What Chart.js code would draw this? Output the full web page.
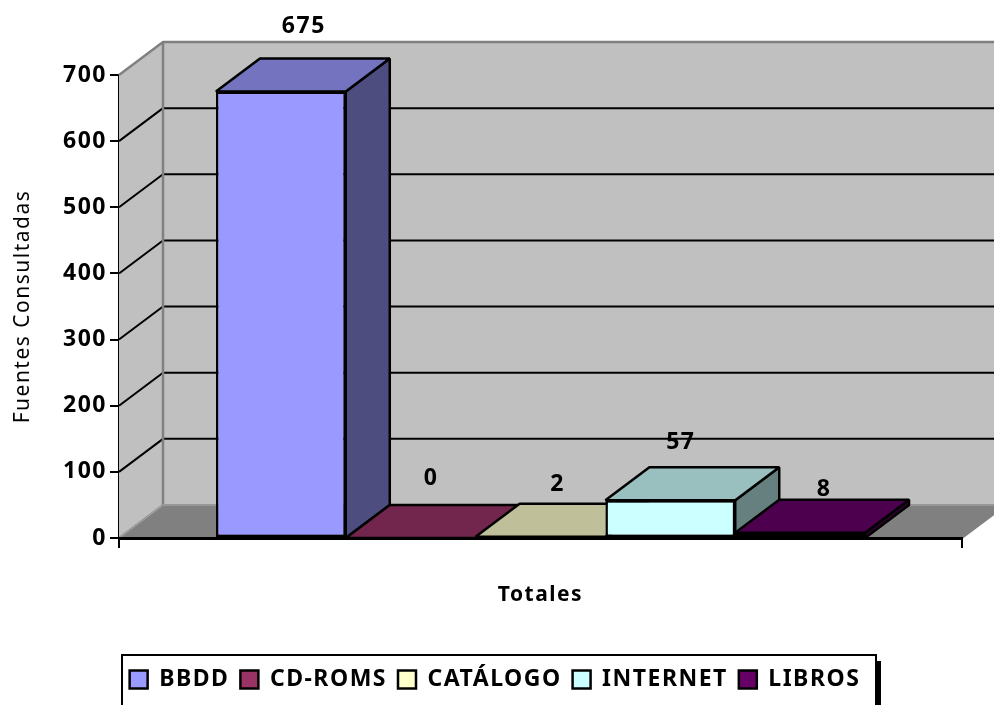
<!DOCTYPE html>
<html>
<head>
<meta charset="utf-8">
<title>Fuentes Consultadas</title>
<script src="https://cdn.jsdelivr.net/npm/chart.js@4"></script>
<style>
  html, body { margin: 0; padding: 0; background: #fff; overflow: hidden; }
  canvas { display: block; }
</style>
</head>
<body>
<canvas id="myChart" width="994" height="705"></canvas>
<script>
const categories = ["Totales"];
const seriesNames = ["BBDD", "CD-ROMS", "CATÁLOGO", "INTERNET", "LIBROS"];
const seriesValues = [675, 0, 2, 57, 8];
const seriesColors = ["#9999FF", "#993366", "#FFFFCC", "#CCFFFF", "#660066"];
const axisTitle = "Fuentes Consultadas";

const depthX = 44;
const depthY = -33;
const fontName = "'Noto Sans', sans-serif";
const labelNudge = [[23, -32], [20.5, -27], [17, -19], [10.5, -25], [24, -10]];

function shade(hex, k) {
    const n = parseInt(hex.slice(1), 16);
    return `rgb(${(n >> 16) * k}, ${((n >> 8) & 255) * k}, ${(n & 255) * k})`;
}

function poly(ctx, pts, fill, stroke, width) {
    ctx.beginPath();
    pts.forEach((p, i) => i ? ctx.lineTo(p[0], p[1]) : ctx.moveTo(p[0], p[1]));
    ctx.closePath();
    if (fill) { ctx.fillStyle = fill; ctx.fill(); }
    if (stroke) { ctx.strokeStyle = stroke; ctx.lineWidth = width; ctx.lineJoin = "bevel"; ctx.stroke(); }
}

// walls, floor and the gridlines that run round them
const walls = {
    id: "walls",
    // the canvas state is reset when Chart.js sizes it, so set this late
    beforeUpdate(chart) {
        chart.ctx.letterSpacing = "1.5px";
    },
    // the right padding pulls the legend off centre, push it back
    afterLayout(chart) {
        chart.legend.left += 14;
        chart.legend.right += 14;
    },
    beforeDatasetsDraw(chart) {
        const { ctx, chartArea: a, scales: { y } } = chart;
        const bx = a.left + depthX, by = a.top + depthY;
        const fy = a.bottom + depthY;
        ctx.save();
        poly(ctx, [[a.left, a.top], [bx, by], [bx, fy], [a.left, a.bottom]], "#C0C0C0");
        poly(ctx, [[bx, by], [a.right + depthX, by], [a.right + depthX, fy], [bx, fy]], "#C0C0C0");
        poly(ctx, [[a.left, a.bottom], [a.right, a.bottom], [a.right + depthX, fy], [bx, fy]], "#808080", "#808080", 2);

        ctx.strokeStyle = "#000";
        ctx.lineWidth = 2;
        y.ticks.forEach(t => {
            if (t.value === 0 || t.value === y.max) return;
            const py = y.getPixelForValue(t.value);
            ctx.beginPath();
            ctx.moveTo(a.left, py);
            ctx.lineTo(bx, py + depthY);
            ctx.lineTo(a.right + depthX, py + depthY);
            ctx.stroke();
        });

        ctx.strokeStyle = "#808080";
        ctx.lineWidth = 2.5;
        ctx.beginPath();
        ctx.moveTo(a.left, a.top);
        ctx.lineTo(bx, by);
        ctx.lineTo(a.right + depthX, by);
        ctx.moveTo(bx, by);
        ctx.lineTo(bx, fy);
        ctx.stroke();
        ctx.lineWidth = 1.5;
        ctx.strokeStyle = "#A0A0A0";
        ctx.beginPath();
        ctx.moveTo(a.left, a.bottom);
        ctx.lineTo(bx, fy);
        ctx.lineTo(a.right + depthX, fy);
        ctx.stroke();

        // top and side of every bar, left to right; the fronts come from Chart.js
        seriesValues.forEach((v, i) => {
            const bar = chart.getDatasetMeta(i).data[0];
            const l = bar.x - bar.width / 2, r = bar.x + bar.width / 2;
            const t = bar.y, b = a.bottom;
            poly(ctx, [[r, t], [r + depthX, t + depthY], [r + depthX, b + depthY], [r, b]], shade(seriesColors[i], 0.5), "#000", 2.5);
            poly(ctx, [[l, t], [r, t], [r + depthX, t + depthY], [l + depthX, t + depthY]], shade(seriesColors[i], 0.75), "#000", 2.5);
        });
        ctx.restore();
    }
};

const valueLabels = {
    id: "valueLabels",
    afterDatasetsDraw(chart) {
        const { ctx } = chart;
        ctx.save();
        ctx.font = `bold 23px ${fontName}`;
        ctx.fillStyle = "#000";
        ctx.textAlign = "center";
        ctx.textBaseline = "middle";
        seriesValues.forEach((v, i) => {
            const bar = chart.getDatasetMeta(i).data[0];
            ctx.fillText(String(v), bar.x + labelNudge[i][0], bar.y + depthY + labelNudge[i][1]);
        });
        ctx.restore();
    }
};

// box and shadow behind the legend, open at the bottom of the page
const legendFrame = {
    id: "legendFrame",
    beforeDraw(chart) {
        const { ctx, width, height } = chart;
        ctx.save();
        ctx.fillStyle = "#fff";
        ctx.fillRect(0, 0, width, height);
        ctx.fillStyle = "#000";
        ctx.fillRect(876, 661, 5, 44);
        ctx.strokeStyle = "#000";
        ctx.lineWidth = 2;
        ctx.strokeRect(122, 655, 754, 70);
        ctx.restore();
    }
};

new Chart(document.getElementById("myChart"), {
    type: "bar",
    data: {
        labels: categories,
        datasets: seriesNames.map((name, i) => ({
            label: name,
            data: [seriesValues[i]],
            backgroundColor: seriesColors[i],
            borderColor: "#000",
            borderWidth: 2.5,
            borderSkipped: false
        }))
    },
    options: {
        responsive: false,
        animation: false,
        categoryPercentage: 0.77,
        barPercentage: 1,
        layout: { padding: { top: 75, right: 32, bottom: 4, left: 0 } },
        plugins: {
            tooltip: { enabled: false },
            legend: {
                position: "bottom",
                labels: {
                    color: "#000",
                    font: { family: fontName, weight: "bold", size: 23 },
                    boxWidth: 18,
                    boxHeight: 18,
                    padding: 11
                }
            }
        },
        scales: {
            x: {
                afterFit(scale) { scale.height = 119; },
                grid: { drawOnChartArea: false, color: "#000", lineWidth: 2, tickLength: 10 },
                border: { color: "#000", width: 3, z: 1 },
                ticks: {
                    color: "#000",
                    font: { family: fontName, weight: "bold", size: 21 },
                    padding: 34
                }
            },
            y: {
                min: 0,
                max: 700,
                afterFit(scale) { scale.width = 119; },
                title: {
                    display: true,
                    text: axisTitle,
                    color: "#000",
                    font: { family: fontName, size: 21 },
                    padding: { top: 10, bottom: 0 }
                },
                grid: { drawOnChartArea: false, color: "#000", lineWidth: 2, tickLength: 9 },
                border: { color: "#000", width: 2 },
                ticks: {
                    stepSize: 100,
                    color: "#000",
                    font: { family: fontName, weight: "bold", size: 23 },
                    padding: 3
                }
            }
        }
    },
    plugins: [legendFrame, walls, valueLabels]
});
</script>
</body>
</html>
